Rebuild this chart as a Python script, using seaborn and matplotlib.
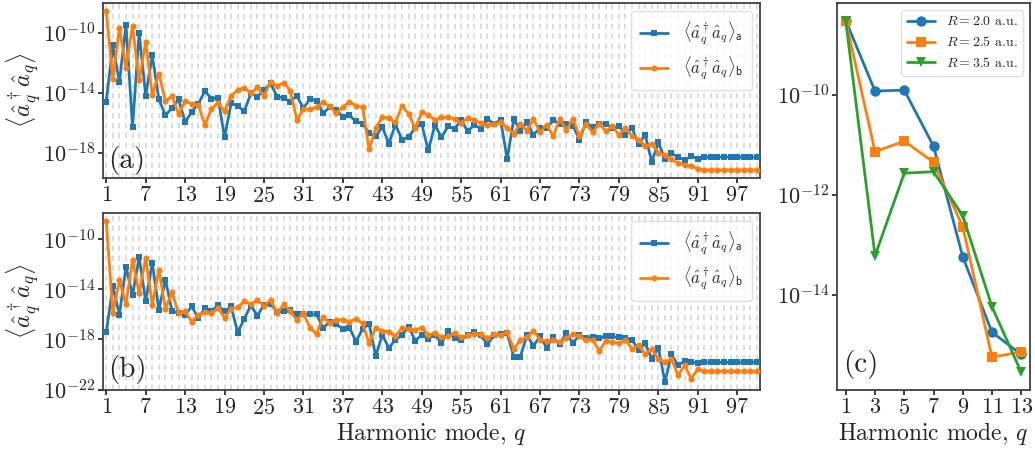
import numpy as np
import pandas as pd
import matplotlib
matplotlib.use("Agg")
import matplotlib.pyplot as plt
import seaborn as sns
from matplotlib.ticker import FixedLocator, MultipleLocator, NullLocator

# ---------------- data (log10 of <a_q^dagger a_q>) ----------------
harmonics = list(range(1, 101))
xtick_values = [1, 7, 13, 19, 25, 31, 37, 43, 49, 55, 61, 67, 73, 79, 85, 91, 97]

# panel (a)
a_series_a = [-14.59, -10.84, -13.31, -9.45, -16.29, -10.00, -14.19, -11.50, -14.44, -15.50,
              -15.03, -14.44, -15.96, -15.28, -14.75, -13.89, -14.39, -14.33, -16.98, -14.70,
              -14.88, -15.25, -14.04, -14.26, -13.82, -13.38, -14.26, -14.37, -14.59, -14.22,
              -15.03, -14.42, -14.53, -15.36, -14.97, -15.14, -15.63, -15.52, -15.92, -16.07,
              -16.69, -16.91, -16.29, -17.40, -16.14, -17.13, -16.95, -16.36, -16.09, -17.86,
              -16.14, -16.98, -16.25, -16.40, -15.85, -16.58, -16.14, -16.42, -15.76, -16.09,
              -15.81, -18.45, -15.76, -16.53, -15.98, -16.80, -16.36, -16.36, -15.85, -16.07,
              -16.07, -16.20, -17.13, -15.98, -16.29, -16.07, -16.07, -16.36, -16.20, -16.80,
              -16.36, -17.46, -16.80, -18.63, -17.31, -18.45, -18.06, -18.28, -18.52, -18.23,
              -18.41, -18.30, -18.30, -18.30, -18.30, -18.30, -18.30, -18.30, -18.30, -18.30]
a_series_b = [-8.52, -13.09, -9.67, -12.34, -9.54, -13.16, -10.62, -14.15, -12.72, -14.55,
              -14.22, -15.43, -14.55, -14.75, -14.81, -16.14, -15.10, -14.66, -15.25, -14.19,
              -13.82, -13.66, -14.04, -13.64, -14.22, -13.27, -13.55, -13.33, -13.86, -15.81,
              -15.10, -15.10, -14.97, -14.64, -14.92, -15.36, -14.97, -14.59, -14.88, -14.97,
              -17.79, -16.36, -15.63, -15.70, -15.98, -14.88, -15.41, -16.36, -15.32, -15.47,
              -15.81, -15.65, -15.65, -15.74, -16.03, -15.70, -15.81, -16.03, -16.14, -16.09,
              -15.98, -16.36, -16.73, -16.07, -16.53, -15.76, -16.64, -16.14, -16.91, -15.74,
              -16.51, -15.74, -16.91, -16.07, -16.64, -16.07, -16.58, -16.25, -16.80, -16.36,
              -16.91, -17.13, -17.57, -17.40, -18.01, -18.19, -18.45, -18.72, -18.81, -18.90,
              -19.07, -19.16, -19.16, -19.16, -19.16, -19.16, -19.16, -19.16, -19.16, -19.16]

# panel (b)
b_series_a = [-17.43, -13.75, -16.03, -12.20, -14.48, -11.42, -14.96, -11.88, -15.63, -13.22,
              -15.71, -15.90, -16.03, -15.36, -16.30, -15.50, -15.76, -15.23, -15.76, -15.36,
              -17.45, -16.35, -15.28, -16.09, -15.23, -15.15, -15.82, -15.71, -15.63, -15.98,
              -15.98, -15.98, -15.98, -17.10, -16.57, -16.78, -17.16, -17.05, -18.18, -17.16,
              -16.76, -19.33, -17.64, -18.66, -18.04, -17.64, -16.97, -18.10, -17.64, -17.95,
              -17.63, -18.30, -17.31, -17.90, -18.03, -17.68, -17.41, -17.68, -18.38, -17.68,
              -17.58, -17.49, -19.38, -19.38, -17.68, -18.49, -17.76, -18.65, -17.84, -18.38,
              -17.49, -18.30, -17.63, -17.90, -17.84, -17.90, -17.76, -17.76, -17.84, -17.90,
              -18.03, -18.84, -18.30, -19.56, -18.65, -21.39, -19.19, -20.05, -19.73, -19.78,
              -19.91, -19.83, -19.83, -19.83, -19.83, -19.83, -19.83, -19.83, -19.83, -19.83]
b_series_b = [-8.53, -15.90, -13.27, -15.17, -11.61, -14.29, -11.47, -15.23, -12.41, -15.55,
              -14.24, -15.90, -15.76, -16.57, -16.03, -15.82, -15.90, -15.50, -16.25, -15.55,
              -15.44, -14.96, -15.17, -14.88, -15.31, -14.83, -15.90, -15.17, -15.76, -16.43,
              -15.90, -17.05, -17.59, -16.17, -16.70, -16.43, -16.43, -16.57, -16.35, -16.70,
              -18.31, -17.05, -17.32, -17.37, -17.72, -17.10, -17.16, -17.24, -17.05, -17.63,
              -17.49, -17.84, -17.76, -17.49, -17.84, -17.63, -17.58, -17.58, -17.90, -17.58,
              -17.63, -17.41, -18.76, -18.03, -17.84, -17.31, -18.03, -18.11, -18.03, -18.22,
              -17.90, -17.58, -17.76, -18.03, -18.03, -18.92, -18.11, -18.17, -18.30, -18.03,
              -18.76, -18.44, -19.19, -18.76, -19.56, -19.78, -19.56, -20.85, -20.05, -21.12,
              -20.37, -20.53, -20.53, -20.53, -20.53, -20.53, -20.53, -20.53, -20.53, -20.53]

# panel (c)
c_harmonics = [1, 3, 5, 7, 9, 11, 13]
c_R20 = [-8.52, -9.93, -9.91, -11.03, -13.24, -14.75, -15.19]
c_R25 = [-8.52, -11.14, -10.93, -11.35, -12.64, -15.25, -15.14]
c_R35 = [-8.53, -13.22, -11.57, -11.54, -12.42, -14.24, -15.55]
c_labels = [r"$R=2.0$ a.u.", r"$R=2.5$ a.u.", r"$R=3.5$ a.u."]

label_a = r"$\langle\hat{a}_q^\dagger\hat{a}_q\rangle_{\mathsf{a}}$"
label_b = r"$\langle\hat{a}_q^\dagger\hat{a}_q\rangle_{\mathsf{b}}$"
ylabel = r"$\langle\hat{a}_q^\dagger\hat{a}_q\rangle$"
xlabel = r"Harmonic mode, $q$"

BLUE, ORANGE, GREEN = "#1f77b4", "#ff7f0e", "#2ca02c"

# ---------------- style ----------------
sns.set_theme(style="ticks")
plt.rcParams.update({
    "font.family": "serif",
    "font.serif": ["cmr10", "DejaVu Serif"],
    "mathtext.fontset": "cm",
    "axes.formatter.use_mathtext": True,
    "axes.unicode_minus": False,
    "axes.edgecolor": "0.25",
    "axes.linewidth": 1.3,
    "xtick.major.size": 3.5,
    "ytick.major.size": 3.5,
    "xtick.color": "0.15",
    "ytick.color": "0.15",
})

fig = plt.figure(figsize=(10.35, 4.55), dpi=100)
axA = fig.add_axes([0.0995, 0.609, 0.635, 0.385])
axB = fig.add_axes([0.0995, 0.143, 0.635, 0.389])
axC = fig.add_axes([0.8087, 0.143, 0.1865, 0.8505])


def harmonic_panel(ax, sa, sb, yticks_exp, tag, tag_y):
    ax.set_yscale("log")
    df = pd.DataFrame({"q": harmonics,
                       "a": np.power(10.0, sa),
                       "b": np.power(10.0, sb)})
    sns.lineplot(data=df, x="q", y="a", ax=ax, color=BLUE, marker="s",
                 markersize=4.2, markeredgewidth=0, linewidth=2.0, label=label_a, zorder=3)
    sns.lineplot(data=df, x="q", y="b", ax=ax, color=ORANGE, marker="o",
                 markersize=4.4, markeredgewidth=0, linewidth=2.0, label=label_b, zorder=4)
    ax.set_xlim(0.5, 100.5)
    ax.xaxis.set_major_locator(FixedLocator(xtick_values))
    ax.xaxis.set_minor_locator(MultipleLocator(1))
    ax.tick_params(axis="x", which="minor", length=0)
    ax.grid(True, axis="x", which="both", color="0.86", linestyle=(0, (3, 2.5)),
            linewidth=1.3, zorder=0)
    ax.set_axisbelow(True)
    ax.yaxis.set_major_locator(FixedLocator([10.0 ** e for e in yticks_exp]))
    ax.yaxis.set_minor_locator(NullLocator())
    ax.tick_params(axis="both", which="major", labelsize=16, pad=2)
    ax.set_xlabel("")
    ax.set_ylabel(ylabel, fontsize=17.5)
    ax.yaxis.set_label_coords(-0.091, 0.5)
    ax.legend(loc="upper right", fontsize=12, frameon=True, framealpha=0.8,
              edgecolor="0.85", fancybox=True, handlelength=1.7, handletextpad=0.9,
              borderpad=0.5)
    ax.text(0.008, tag_y, tag, transform=ax.transAxes, fontsize=21, va="baseline", ha="left")


harmonic_panel(axA, a_series_a, a_series_b, [-10, -14, -18], "(a)", 0.055)
harmonic_panel(axB, b_series_a, b_series_b, [-10, -14, -18, -22], "(b)", 0.075)
axB.set_xlabel(xlabel, fontsize=17, labelpad=2)

# panel (c)
axC.set_yscale("log")
dfc = pd.DataFrame({"q": c_harmonics * 3,
                    "val": np.power(10.0, c_R20 + c_R25 + c_R35),
                    "R": [c_labels[0]] * 7 + [c_labels[1]] * 7 + [c_labels[2]] * 7})
sns.lineplot(data=dfc, x="q", y="val", hue="R", style="R", ax=axC,
             palette=[BLUE, ORANGE, GREEN], markers=["o", "s", "v"], dashes=False,
             markersize=7.5, markeredgewidth=0, linewidth=2.0)
axC.set_xticks(c_harmonics)
axC.yaxis.set_major_locator(FixedLocator([1e-10, 1e-12, 1e-14]))
axC.yaxis.set_minor_locator(NullLocator())
axC.tick_params(axis="both", which="major", labelsize=16, pad=2)
axC.set_xlabel(xlabel, fontsize=17, labelpad=2)
axC.set_ylabel("")
axC.legend(loc="upper right", fontsize=10, frameon=True, framealpha=0.8,
           edgecolor="0.85", fancybox=True, title=None, handlelength=2.0, borderpad=0.4)
axC.text(0.03, 0.047, "(c)", transform=axC.transAxes, fontsize=21, va="baseline", ha="left")

fig.savefig("out.png", dpi=100)
